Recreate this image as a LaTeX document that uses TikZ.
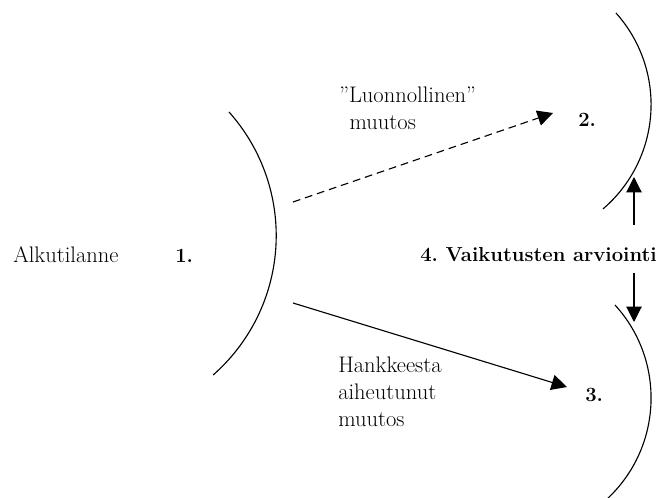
\documentclass[tikz,border=0pt]{standalone}
\usetikzlibrary{arrows.meta}
\frenchspacing

\tikzset{
  txt/.style={font=\fontsize{16}{19.2}\selectfont, inner sep=0pt},
  nro/.style={font=\fontsize{14.4}{17}\selectfont\bfseries, inner sep=0pt, anchor=base west},
  kaari/.style={line width=0.8pt},
  nuoli/.style={line width=0.8pt, -{Triangle[length=11pt,width=11pt]}}
}

\begin{document}
\begin{tikzpicture}[x=0.025cm, y=-0.025cm]
\useasboundingbox (0,0) rectangle (667,498);
% tilanteet
\draw[kaari] (229,112) arc[start angle=-41.8, end angle=48.7, radius=185.5];
\draw[kaari] (616,13) arc[start angle=-41.9, end angle=49.5, radius=137.2];
\draw[kaari] (615,305) arc[start angle=-42.4, end angle=47, radius=137.9];
% tekstit
\node[txt, anchor=base west] (alku) at (13,263) {Alkutilanne};
\node[nro] (n1) at (175,263) {1.};
\node[nro] (n2) at (578,127) {2.};
\node[nro] (n3) at (585,402) {3.};
\node[nro] (arvio) at (420,262) {4. Vaikutusten arviointi};
\node[txt, anchor=north west, align=left] (luonn) at (339,87) {”Luonnollinen”\\\hspace*{2.6mm}muutos};
\node[txt, anchor=north west, align=left] (hanke) at (338,357) {Hankkeesta\\aiheutunut\\muutos};
% nuolet
\coordinate (luonnA) at (293,202);
\coordinate (luonnB) at (553,113);
\coordinate (hankeA) at (293,303);
\coordinate (hankeB) at (567,387);
\coordinate (ylosA) at (634,225);
\coordinate (ylosB) at (634,177);
\coordinate (alasA) at (634,273);
\coordinate (alasB) at (634,322);
\draw[nuoli, dash pattern=on 5.5pt off 3.5pt] (luonnA) -- (luonnB);
\draw[nuoli] (hankeA) -- (hankeB);
\draw[nuoli] (ylosA) -- (ylosB);
\draw[nuoli] (alasA) -- (alasB);
\end{tikzpicture}
\end{document}
